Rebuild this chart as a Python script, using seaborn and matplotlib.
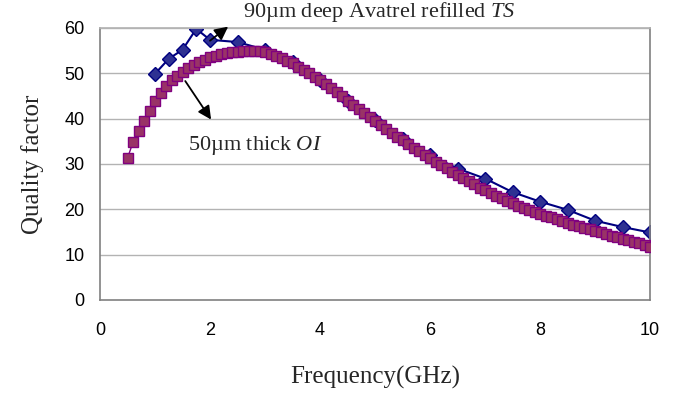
import numpy as np
import pandas as pd
import matplotlib
matplotlib.use('Agg')
import matplotlib.pyplot as plt
import seaborn as sns

# Data
ts_freq = [1.0, 1.25, 1.5, 1.75, 2.0, 2.5, 3.0, 3.5, 4.0, 4.5, 5.0, 5.5,
           6.0, 6.5, 7.0, 7.5, 8.0, 8.5, 9.0, 9.5, 10.0]
ts_q = [49.9, 53.2, 55.2, 59.8, 57.4, 56.9, 55.2, 52.5, 48.6, 44.0, 39.6, 35.6,
        32.0, 29.0, 26.8, 23.8, 21.7, 19.9, 17.5, 16.1, 14.9]

oi_freq = [0.5, 0.6, 0.7, 0.8, 0.9, 1.0, 1.1, 1.2, 1.3, 1.4, 1.5, 1.6, 1.7, 1.8, 1.9,
           2.0, 2.1, 2.2, 2.3, 2.4, 2.5, 2.6, 2.7, 2.8, 2.9, 3.0, 3.1, 3.2, 3.3, 3.4,
           3.5, 3.6, 3.7, 3.8, 3.9, 4.0, 4.1, 4.2, 4.3, 4.4, 4.5, 4.6, 4.7, 4.8, 4.9,
           5.0, 5.1, 5.2, 5.3, 5.4, 5.5, 5.6, 5.7, 5.8, 5.9, 6.0, 6.1, 6.2, 6.3, 6.4,
           6.5, 6.6, 6.7, 6.8, 6.9, 7.0, 7.1, 7.2, 7.3, 7.4, 7.5, 7.6, 7.7, 7.8, 7.9,
           8.0, 8.1, 8.2, 8.3, 8.4, 8.5, 8.6, 8.7, 8.8, 8.9, 9.0, 9.1, 9.2, 9.3, 9.4,
           9.5, 9.6, 9.7, 9.8, 9.9, 10.0]
oi_q = [31.3, 34.8, 37.3, 39.5, 41.8, 43.8, 45.6, 47.2, 48.5, 49.5, 50.4, 51.2, 51.9, 52.5, 53.0,
        53.5, 53.9, 54.2, 54.5, 54.7, 54.8, 54.9, 55.0, 55.0, 54.9, 54.7, 54.3, 53.9, 53.4, 52.8,
        52.2, 51.5, 50.8, 50.1, 49.3, 48.5, 47.6, 46.7, 45.8, 44.9, 44.0, 43.1, 42.2, 41.3, 40.4,
        39.5, 38.6, 37.7, 36.9, 36.0, 35.2, 34.4, 33.6, 32.8, 32.0, 31.3, 30.5, 29.8, 29.1, 28.3,
        27.6, 26.9, 26.2, 25.5, 24.8, 24.2, 23.6, 23.0, 22.4, 21.8, 21.3, 20.8, 20.3, 19.9, 19.4,
        19.0, 18.6, 18.2, 17.8, 17.4, 17.0, 16.6, 16.3, 15.9, 15.6, 15.2, 14.9, 14.5, 14.2, 13.8,
        13.5, 13.2, 12.8, 12.5, 12.1, 11.8]

x_ticks = [0, 2, 4, 6, 8, 10]
y_ticks = [0, 10, 20, 30, 40, 50, 60]

sns.set_theme(style='white')
plt.rcParams['font.family'] = ['Liberation Sans', 'DejaVu Sans']
plt.rcParams['mathtext.fontset'] = 'custom'
plt.rcParams['mathtext.rm'] = 'Liberation Serif'
plt.rcParams['mathtext.it'] = 'Liberation Serif:italic'

fig = plt.figure(figsize=(6.73, 3.94), dpi=100)
ax = fig.add_axes([100 / 673, 1 - 300 / 394, 550 / 673, 272 / 394])

# horizontal gridlines like the excel chart
for yv in y_ticks[1:]:
    ax.axhline(yv, color='#b3b3b3', lw=1.0, zorder=0)

sns.lineplot(x=ts_freq, y=ts_q, ax=ax, color='#000080', lw=1.5, marker='D',
             markersize=7, markerfacecolor='#2E3192', markeredgecolor='#000080',
             markeredgewidth=1, zorder=2)
sns.lineplot(x=oi_freq, y=oi_q, ax=ax, color='#800080', lw=1.0, marker='s',
             markersize=7.5, markerfacecolor='#993366', markeredgecolor='#800080',
             markeredgewidth=1, zorder=3)

ax.set_xlim(0, 10)
ax.set_ylim(0, 60)
ax.set_xticks(x_ticks)
ax.set_yticks(y_ticks)
ax.tick_params(axis='both', direction='out', length=4, width=1, color='#808080',
               labelsize=13, labelcolor='#000000')
ax.tick_params(axis='y', pad=7)
ax.tick_params(axis='x', pad=12)
for side in ['left', 'bottom', 'right']:
    ax.spines[side].set_color('#808080')
    ax.spines[side].set_linewidth(1.2)
ax.spines['top'].set_color('#b3b3b3')

serif = ['Liberation Serif', 'DejaVu Serif']
ax.set_xlabel('Frequency(GHz)', family=serif, fontsize=18, labelpad=19)
ax.set_ylabel('Quality factor', family=serif, fontsize=18, labelpad=15)

# annotations
ax.annotate('', xy=(2.33, 60.3), xytext=(2.0, 57.2),
            arrowprops=dict(arrowstyle='-|>', color='black', lw=1.3, mutation_scale=20,
                            shrinkA=0, shrinkB=0),
            annotation_clip=False, zorder=5)
ax.annotate('', xy=(2.02, 39.8), xytext=(1.55, 48.3),
            arrowprops=dict(arrowstyle='-|>', color='black', lw=1.3, mutation_scale=20,
                            shrinkA=0, shrinkB=0),
            zorder=5)
ax.text(2.6, 63.6, '90\u00b5m deep Avatrel refilled $\\mathit{TS}$', family=serif,
        fontsize=16, va='center', ha='left', clip_on=False)
ax.text(1.6, 34.0, '50\u00b5m thick $\\mathit{OI}$', family=serif,
        fontsize=16, va='center', ha='left')

fig.savefig('out.png', dpi=100)
